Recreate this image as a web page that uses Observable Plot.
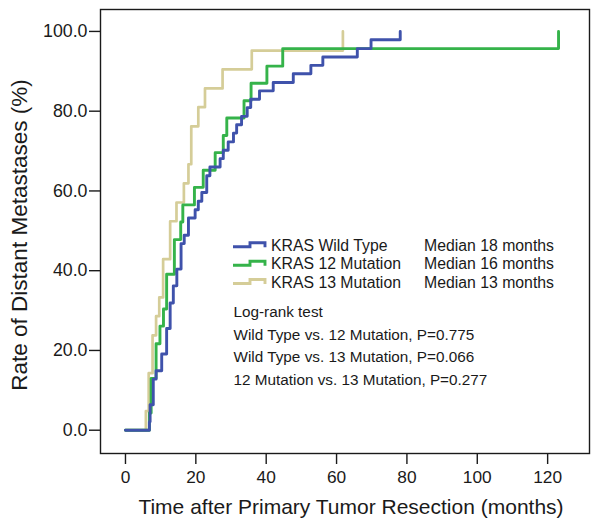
<!DOCTYPE html>
<html>
<head>
<meta charset="utf-8">
<script src="https://cdn.jsdelivr.net/npm/d3@7"></script>
<script src="https://cdn.jsdelivr.net/npm/@observablehq/plot@0.6"></script>
<style>
  body { margin: 0; background: #fff; }
  #chart svg { display: block; }
</style>
</head>
<body>
<div id="chart"></div>
<script>
// ---- Data ----
const groups = ["KRAS Wild Type", "KRAS 12 Mutation", "KRAS 13 Mutation"];
const medians = ["Median 18 months", "Median 16 months", "Median 13 months"];
const colors = ["#3f52ab", "#35b34a", "#d5cd98"];

const blueTime = [0, 6.8, 7.0, 7.9, 8.7, 10.3, 11.7, 12.7, 13.6, 14.6, 15.8, 16.7, 17.9, 19.8, 20.7, 21.7, 23.1, 24.0, 26.9, 27.8, 29.2, 30.7, 31.6, 33.0, 34.6, 35.6, 38.1, 42.0, 47.7, 52.7, 56.1, 65.9, 69.8, 78.1];
const bluePct  = [0, 2.1, 6.4, 12.8, 14.9, 19.1, 25.5, 31.9, 36.2, 40.4, 46.8, 48.9, 53.2, 55.3, 57.4, 59.6, 63.8, 66.0, 68.1, 70.2, 72.3, 74.5, 76.6, 78.7, 80.9, 83.0, 85.1, 87.2, 89.4, 91.5, 93.6, 95.7, 97.9, 100];

const greenTime = [0, 6.8, 7.3, 8.7, 9.8, 10.8, 11.7, 13.9, 15.7, 16.3, 19.6, 22.1, 25.5, 27.8, 28.8, 33.7, 35.7, 40.2, 44.7, 123.1];
const greenPct  = [0, 4.3, 13.0, 21.7, 26.1, 30.4, 39.1, 47.8, 52.2, 56.5, 60.9, 65.2, 69.6, 73.9, 78.3, 82.6, 87.0, 91.3, 95.7, 100];

const tanTime = [0, 5.8, 6.6, 7.7, 8.7, 9.6, 10.7, 12.7, 14.5, 16.6, 17.9, 18.7, 20.7, 22.6, 27.6, 35.9, 61.8];
const tanPct  = [0, 4.8, 14.3, 23.8, 28.6, 33.3, 42.9, 52.4, 57.1, 61.9, 66.7, 76.2, 81.0, 85.7, 90.5, 95.2, 100];

const xTicks = [0, 20, 40, 60, 80, 100, 120];
const yTicks = [0, 20, 40, 60, 80, 100];

const logRankLines = [
  "Log-rank test",
  "Wild Type vs. 12 Mutation, P=0.775",
  "Wild Type vs. 13 Mutation, P=0.066",
  "12 Mutation vs. 13 Mutation, P=0.277"
];
const xLabel = "Time after Primary Tumor Resection (months)";
const yLabel = "Rate of Distant Metastases (%)";

// ---- Build series ----
const toRows = (ts, ps) => ts.map((t, i) => ({t, p: ps[i]}));
const blue = toRows(blueTime, bluePct);
const green = toRows(greenTime, greenPct);
const tan = toRows(tanTime, tanPct);

const font = "'Liberation Sans', Arial, Helvetica, sans-serif";
const ink = "#1a1a1a";

const chart = Plot.plot({
  width: 600,
  height: 527,
  marginLeft: 100,
  marginRight: 11,
  marginTop: 9,
  marginBottom: 74,
  style: {fontFamily: font, fontSize: "17px", color: ink, background: "#fff"},
  x: {domain: [-7.1, 131.9]},
  y: {domain: [-5.84, 105.5]},
  marks: [
    Plot.frame({stroke: ink, strokeWidth: 1.4}),
    Plot.axisX({ticks: xTicks, tickSize: 11, tickPadding: 6, label: null, stroke: ink, strokeWidth: 1.4, fill: ink, fontSize: 17.3}),
    Plot.axisY({ticks: yTicks, tickSize: 11, tickPadding: 2, label: null, tickFormat: d => d.toFixed(1), stroke: ink, strokeWidth: 1.4, fill: ink, fontSize: 17.8}),
    Plot.line(tan, {x: "t", y: "p", curve: "step-after", stroke: colors[2], strokeWidth: 2.7}),
    Plot.line(green, {x: "t", y: "p", curve: "step-after", stroke: colors[1], strokeWidth: 2.9}),
    Plot.line(blue, {x: "t", y: "p", curve: "step-after", stroke: colors[0], strokeWidth: 2.9})
  ]
});

document.getElementById("chart").appendChild(chart);

// ---- Axis titles, legend and annotation ----
const svg = d3.select(chart);

svg.append("text")
  .attr("x", 351).attr("y", 514)
  .attr("text-anchor", "middle")
  .attr("font-family", font).attr("font-size", 21).attr("fill", ink)
  .text(xLabel);

svg.append("text")
  .attr("transform", "translate(27,235) rotate(-90)")
  .attr("text-anchor", "middle")
  .attr("font-family", font).attr("font-size", 22.5).attr("fill", ink)
  .text(yLabel);

const leg = svg.append("g")
  .attr("font-family", font)
  .attr("fill", ink)
  .attr("text-anchor", "start");
const rowBase = [250.7, 269.3, 287.5];
groups.forEach((g, i) => {
  const b = rowBase[i];
  leg.append("path")
    .attr("d", `M233,${b - 4} H250 V${b - 8} H265 V${b - 3.5}`)
    .attr("fill", "none").attr("stroke", colors[i]).attr("stroke-width", 2.9);
  leg.append("text").attr("x", 271).attr("y", b).attr("font-size", 15.8).attr("text-anchor", "start").text(g);
  leg.append("text").attr("x", 424).attr("y", b).attr("font-size", 15.8).attr("text-anchor", "start").text(medians[i]);
});

const lrBase = [317.3, 340, 362.3, 384.5];
logRankLines.forEach((s, i) => {
  leg.append("text").attr("x", 233.5).attr("y", lrBase[i]).attr("font-size", 15.3).attr("text-anchor", "start").text(s);
});
</script>
</body>
</html>
